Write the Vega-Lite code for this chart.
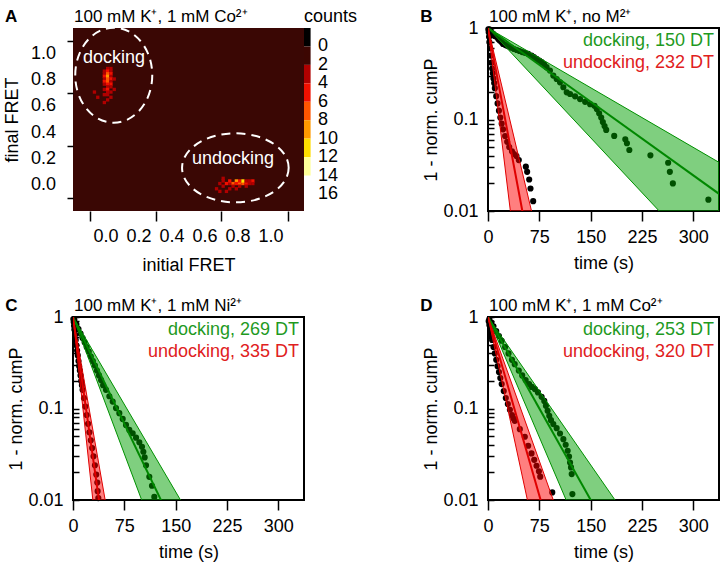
{
"$schema":"https://vega.github.io/schema/vega-lite/v6.json",
"padding":{"left":3,"top":6,"right":0,"bottom":0},
"background":"white",
"config":{"font":"Liberation Sans","view":{"stroke":null},"axis":{"grid":false,"labelFontSize":18,"titleFontSize":18,"titleFontWeight":"normal","labelColor":"black","titleColor":"black","tickColor":"black","tickWidth":1.5,"labelFlush":false,"labelOverlap":false,"labelFont":"Liberation Sans","titleFont":"Liberation Sans"},"text":{"font":"Liberation Sans"}},
"datasets":{
"panels":[{"panel":"A","letter":"A","heading":"100 mM K⁺, 1 mM Co²⁺"},{"panel":"B","letter":"B","heading":"100 mM K⁺, no M²⁺"},{"panel":"C","letter":"C","heading":"100 mM K⁺, 1 mM Ni²⁺"},{"panel":"D","letter":"D","heading":"100 mM K⁺, 1 mM Co²⁺"}],
"tags":[{"panel":"B","kind":"docking","label":"docking, 150 DT"},{"panel":"B","kind":"undocking","label":"undocking, 232 DT"},{"panel":"C","kind":"docking","label":"docking, 269 DT"},{"panel":"C","kind":"undocking","label":"undocking, 335 DT"},{"panel":"D","kind":"docking","label":"docking, 253 DT"},{"panel":"D","kind":"undocking","label":"undocking, 320 DT"}],
"regions":[{"region":"docking","cx":0.047,"cy":0.839,"lx":0.048,"ly":0.97},{"region":"undocking","cx":0.784,"cy":0.13,"lx":0.77,"ly":0.197}],
"colorbar":[{"lo":-2,"hi":0},{"lo":0,"hi":2},{"lo":2,"hi":4},{"lo":4,"hi":6},{"lo":6,"hi":8},{"lo":8,"hi":10},{"lo":10,"hi":12},{"lo":12,"hi":14}],
"cbticks":[{"v":0},{"v":2},{"v":4},{"v":6},{"v":8},{"v":10},{"v":12},{"v":14},{"v":16}],
"fretticks":[{"v":0},{"v":0.2},{"v":0.4},{"v":0.6},{"v":0.8},{"v":1}],
"tdp":[
{"x":0.01,"y":0.89,"count":3},{"x":0.03,"y":0.89,"count":2},{"x":-0.01,"y":0.87,"count":2},{"x":0.01,"y":0.87,"count":4},{"x":0.03,"y":0.87,"count":3},
{"x":0.01,"y":0.85,"count":6},{"x":-0.01,"y":0.85,"count":3},{"x":0.03,"y":0.85,"count":4},
{"x":-0.01,"y":0.83,"count":4},{"x":0.01,"y":0.83,"count":8},{"x":0.03,"y":0.83,"count":3},
{"x":0.01,"y":0.81,"count":6},{"x":-0.01,"y":0.81,"count":2},{"x":0.03,"y":0.81,"count":5},{"x":0.05,"y":0.81,"count":2},
{"x":-0.01,"y":0.79,"count":5},{"x":0.01,"y":0.79,"count":6},{"x":0.03,"y":0.79,"count":3},
{"x":0.01,"y":0.77,"count":4},{"x":-0.01,"y":0.77,"count":2},{"x":0.03,"y":0.77,"count":4},
{"x":0.01,"y":0.75,"count":3},{"x":0.03,"y":0.75,"count":2},{"x":-0.01,"y":0.73,"count":3},{"x":0.01,"y":0.73,"count":4},
{"x":0.01,"y":0.71,"count":2},{"x":0.03,"y":0.71,"count":3},{"x":-0.01,"y":0.69,"count":2},{"x":0.01,"y":0.69,"count":3},{"x":0.03,"y":0.67,"count":2},{"x":0.01,"y":0.65,"count":2},{"x":-0.01,"y":0.63,"count":2},{"x":-0.07,"y":0.71,"count":2},{"x":-0.05,"y":0.67,"count":2},{"x":0.05,"y":0.73,"count":2},
{"x":0.67,"y":-0.03,"count":2},{"x":0.69,"y":0.01,"count":2},{"x":0.71,"y":-0.01,"count":2},{"x":0.71,"y":0.03,"count":3},{"x":0.73,"y":0.01,"count":4},{"x":0.73,"y":-0.05,"count":2},{"x":0.75,"y":0.01,"count":3},{"x":0.75,"y":0.03,"count":4},{"x":0.77,"y":0.01,"count":6},{"x":0.77,"y":-0.01,"count":3},{"x":0.79,"y":0.03,"count":8},{"x":0.79,"y":0.01,"count":5},{"x":0.81,"y":0.01,"count":6},{"x":0.81,"y":0.03,"count":4},{"x":0.81,"y":-0.01,"count":3},{"x":0.83,"y":0.01,"count":6},{"x":0.83,"y":0.03,"count":10},{"x":0.85,"y":0.01,"count":4},{"x":0.85,"y":0.03,"count":3},{"x":0.87,"y":0.01,"count":3},{"x":0.87,"y":0.03,"count":2},{"x":0.89,"y":0.03,"count":5},{"x":0.89,"y":0.01,"count":2},{"x":0.75,"y":-0.03,"count":2},{"x":0.79,"y":-0.03,"count":2},{"x":0.69,"y":-0.05,"count":2},{"x":0.85,"y":-0.01,"count":2},{"x":0.71,"y":0.05,"count":2}
],
"fits":[
{"panel":"B","kind":"docking","t":0,"fit":1,"lo":1,"hi":1},{"panel":"B","kind":"docking","t":337.5,"fit":0.0154,"lo":0.002,"hi":0.034},
{"panel":"B","kind":"undocking","t":0,"fit":1,"lo":1,"hi":1},{"panel":"B","kind":"undocking","t":70,"fit":0.00163,"lo":0.000052,"hi":0.00628},
{"panel":"C","kind":"docking","t":0,"fit":1,"lo":1,"hi":1},{"panel":"C","kind":"docking","t":200,"fit":0.00077,"lo":0.000103,"hi":0.00284},
{"panel":"C","kind":"undocking","t":0,"fit":1,"lo":1,"hi":1},{"panel":"C","kind":"undocking","t":60,"fit":0.00069,"lo":0.000073,"hi":0.00279},
{"panel":"D","kind":"docking","t":0,"fit":1,"lo":1,"hi":1},{"panel":"D","kind":"docking","t":220,"fit":0.00117,"lo":0.00014,"hi":0.00426},
{"panel":"D","kind":"undocking","t":0,"fit":1,"lo":1,"hi":1},{"panel":"D","kind":"undocking","t":120,"fit":0.000757,"lo":0.0000677,"hi":0.00304}
],
"survival":[
{"panel":"B","kind":"docking","t":2,"p":0.97},{"panel":"B","kind":"docking","t":4,"p":0.93},{"panel":"B","kind":"docking","t":7.3,"p":0.87},{"panel":"B","kind":"docking","t":10,"p":0.82},{"panel":"B","kind":"docking","t":12.2,"p":0.8},{"panel":"B","kind":"docking","t":15,"p":0.76},{"panel":"B","kind":"docking","t":17.1,"p":0.73},{"panel":"B","kind":"docking","t":20,"p":0.7},{"panel":"B","kind":"docking","t":22,"p":0.67},{"panel":"B","kind":"docking","t":25,"p":0.655},{"panel":"B","kind":"docking","t":27,"p":0.645},{"panel":"B","kind":"docking","t":30,"p":0.63},{"panel":"B","kind":"docking","t":34,"p":0.61},{"panel":"B","kind":"docking","t":38,"p":0.59},{"panel":"B","kind":"docking","t":42,"p":0.575},{"panel":"B","kind":"docking","t":46,"p":0.56},{"panel":"B","kind":"docking","t":50,"p":0.545},{"panel":"B","kind":"docking","t":54,"p":0.535},{"panel":"B","kind":"docking","t":58.7,"p":0.522},{"panel":"B","kind":"docking","t":63.6,"p":0.501},{"panel":"B","kind":"docking","t":67,"p":0.48},{"panel":"B","kind":"docking","t":70.9,"p":0.46},{"panel":"B","kind":"docking","t":75,"p":0.44},{"panel":"B","kind":"docking","t":78.3,"p":0.423},{"panel":"B","kind":"docking","t":82,"p":0.4},{"panel":"B","kind":"docking","t":85.6,"p":0.373},{"panel":"B","kind":"docking","t":90.5,"p":0.343},{"panel":"B","kind":"docking","t":95.4,"p":0.302},{"panel":"B","kind":"docking","t":100.3,"p":0.277},{"panel":"B","kind":"docking","t":105.2,"p":0.255},{"panel":"B","kind":"docking","t":110.1,"p":0.225},{"panel":"B","kind":"docking","t":115,"p":0.198},{"panel":"B","kind":"docking","t":119.9,"p":0.19},{"panel":"B","kind":"docking","t":127.2,"p":0.179},{"panel":"B","kind":"docking","t":134.5,"p":0.167},{"panel":"B","kind":"docking","t":141.9,"p":0.156},{"panel":"B","kind":"docking","t":149.2,"p":0.147},{"panel":"B","kind":"docking","t":155.6,"p":0.141},{"panel":"B","kind":"docking","t":159,"p":0.13},{"panel":"B","kind":"docking","t":162.4,"p":0.117},{"panel":"B","kind":"docking","t":165.4,"p":0.105},{"panel":"B","kind":"docking","t":167.8,"p":0.094},{"panel":"B","kind":"docking","t":170.3,"p":0.085},{"panel":"B","kind":"docking","t":172.7,"p":0.077},{"panel":"B","kind":"docking","t":184.4,"p":0.0662},{"panel":"B","kind":"docking","t":200.6,"p":0.0608},{"panel":"B","kind":"docking","t":203,"p":0.055},{"panel":"B","kind":"docking","t":206.5,"p":0.0464},{"panel":"B","kind":"docking","t":237.3,"p":0.0406},{"panel":"B","kind":"docking","t":263.2,"p":0.0337},{"panel":"B","kind":"docking","t":265.7,"p":0.0268},{"panel":"B","kind":"docking","t":270.1,"p":0.02},{"panel":"B","kind":"docking","t":322,"p":0.0133},
{"panel":"B","kind":"undocking","t":0.5,"p":0.97},{"panel":"B","kind":"undocking","t":1,"p":0.9},{"panel":"B","kind":"undocking","t":1.5,"p":0.8},{"panel":"B","kind":"undocking","t":2,"p":0.7},{"panel":"B","kind":"undocking","t":3,"p":0.6},{"panel":"B","kind":"undocking","t":4,"p":0.5},{"panel":"B","kind":"undocking","t":5,"p":0.42},{"panel":"B","kind":"undocking","t":6,"p":0.36},{"panel":"B","kind":"undocking","t":7,"p":0.32},{"panel":"B","kind":"undocking","t":8,"p":0.28},{"panel":"B","kind":"undocking","t":9,"p":0.25},{"panel":"B","kind":"undocking","t":10,"p":0.22},{"panel":"B","kind":"undocking","t":12,"p":0.18},{"panel":"B","kind":"undocking","t":14,"p":0.15},{"panel":"B","kind":"undocking","t":16,"p":0.125},{"panel":"B","kind":"undocking","t":18,"p":0.105},{"panel":"B","kind":"undocking","t":20,"p":0.09},{"panel":"B","kind":"undocking","t":22,"p":0.078},{"panel":"B","kind":"undocking","t":25,"p":0.066},{"panel":"B","kind":"undocking","t":28,"p":0.057},{"panel":"B","kind":"undocking","t":31,"p":0.05},{"panel":"B","kind":"undocking","t":35,"p":0.045},{"panel":"B","kind":"undocking","t":38,"p":0.042},{"panel":"B","kind":"undocking","t":41.6,"p":0.0399},{"panel":"B","kind":"undocking","t":45,"p":0.036},{"panel":"B","kind":"undocking","t":55.3,"p":0.0305},{"panel":"B","kind":"undocking","t":57.2,"p":0.0268},{"panel":"B","kind":"undocking","t":60.2,"p":0.0221},{"panel":"B","kind":"undocking","t":62.1,"p":0.0176},{"panel":"B","kind":"undocking","t":66,"p":0.0128},
{"panel":"C","kind":"docking","t":2,"p":0.93},{"panel":"C","kind":"docking","t":5,"p":0.83},{"panel":"C","kind":"docking","t":8,"p":0.74},{"panel":"C","kind":"docking","t":11,"p":0.66},{"panel":"C","kind":"docking","t":14,"p":0.59},{"panel":"C","kind":"docking","t":17,"p":0.53},{"panel":"C","kind":"docking","t":20,"p":0.47},{"panel":"C","kind":"docking","t":23,"p":0.42},{"panel":"C","kind":"docking","t":26,"p":0.37},{"panel":"C","kind":"docking","t":29,"p":0.33},{"panel":"C","kind":"docking","t":32,"p":0.295},{"panel":"C","kind":"docking","t":35,"p":0.26},{"panel":"C","kind":"docking","t":38,"p":0.23},{"panel":"C","kind":"docking","t":41,"p":0.205},{"panel":"C","kind":"docking","t":44,"p":0.18},{"panel":"C","kind":"docking","t":48.2,"p":0.16},{"panel":"C","kind":"docking","t":53.1,"p":0.136},{"panel":"C","kind":"docking","t":58,"p":0.119},{"panel":"C","kind":"docking","t":62.8,"p":0.101},{"panel":"C","kind":"docking","t":67.7,"p":0.0889},{"panel":"C","kind":"docking","t":72.6,"p":0.077},{"panel":"C","kind":"docking","t":77.4,"p":0.0662},{"panel":"C","kind":"docking","t":82.3,"p":0.0583},{"panel":"C","kind":"docking","t":87.2,"p":0.0536},{"panel":"C","kind":"docking","t":92.1,"p":0.048},{"panel":"C","kind":"docking","t":96.9,"p":0.0427},{"panel":"C","kind":"docking","t":100.8,"p":0.0382},{"panel":"C","kind":"docking","t":102.8,"p":0.0337},{"panel":"C","kind":"docking","t":104.7,"p":0.0292},{"panel":"C","kind":"docking","t":106.7,"p":0.024},{"panel":"C","kind":"docking","t":111.5,"p":0.0179},{"panel":"C","kind":"docking","t":115.4,"p":0.0143},{"panel":"C","kind":"docking","t":118.8,"p":0.0108},
{"panel":"C","kind":"undocking","t":0.5,"p":0.95},{"panel":"C","kind":"undocking","t":1,"p":0.88},{"panel":"C","kind":"undocking","t":1.5,"p":0.8},{"panel":"C","kind":"undocking","t":2,"p":0.73},{"panel":"C","kind":"undocking","t":3,"p":0.64},{"panel":"C","kind":"undocking","t":4,"p":0.56},{"panel":"C","kind":"undocking","t":5,"p":0.49},{"panel":"C","kind":"undocking","t":6,"p":0.43},{"panel":"C","kind":"undocking","t":7,"p":0.38},{"panel":"C","kind":"undocking","t":8,"p":0.33},{"panel":"C","kind":"undocking","t":9,"p":0.29},{"panel":"C","kind":"undocking","t":10,"p":0.26},{"panel":"C","kind":"undocking","t":11,"p":0.23},{"panel":"C","kind":"undocking","t":12,"p":0.2},{"panel":"C","kind":"undocking","t":13,"p":0.18},{"panel":"C","kind":"undocking","t":14,"p":0.16},{"panel":"C","kind":"undocking","t":16,"p":0.13},{"panel":"C","kind":"undocking","t":18,"p":0.105},{"panel":"C","kind":"undocking","t":20,"p":0.085},{"panel":"C","kind":"undocking","t":22,"p":0.068},{"panel":"C","kind":"undocking","t":24,"p":0.055},{"panel":"C","kind":"undocking","t":26,"p":0.045},{"panel":"C","kind":"undocking","t":28,"p":0.037},{"panel":"C","kind":"undocking","t":30,"p":0.03},{"panel":"C","kind":"undocking","t":32,"p":0.024},{"panel":"C","kind":"undocking","t":34,"p":0.019},{"panel":"C","kind":"undocking","t":35.5,"p":0.0155},{"panel":"C","kind":"undocking","t":36,"p":0.0125},{"panel":"C","kind":"undocking","t":37,"p":0.0105},
{"panel":"D","kind":"docking","t":2,"p":0.95},{"panel":"D","kind":"docking","t":5,"p":0.87},{"panel":"D","kind":"docking","t":8,"p":0.79},{"panel":"D","kind":"docking","t":12,"p":0.7},{"panel":"D","kind":"docking","t":16,"p":0.62},{"panel":"D","kind":"docking","t":20,"p":0.55},{"panel":"D","kind":"docking","t":25,"p":0.47},{"panel":"D","kind":"docking","t":30,"p":0.4},{"panel":"D","kind":"docking","t":35,"p":0.34},{"panel":"D","kind":"docking","t":39,"p":0.305},{"panel":"D","kind":"docking","t":45,"p":0.26},{"panel":"D","kind":"docking","t":50,"p":0.23},{"panel":"D","kind":"docking","t":55,"p":0.205},{"panel":"D","kind":"docking","t":60,"p":0.185},{"panel":"D","kind":"docking","t":64,"p":0.172},{"panel":"D","kind":"docking","t":68.5,"p":0.163},{"panel":"D","kind":"docking","t":73,"p":0.15},{"panel":"D","kind":"docking","t":78.3,"p":0.134},{"panel":"D","kind":"docking","t":82.2,"p":0.121},{"panel":"D","kind":"docking","t":84.6,"p":0.107},{"panel":"D","kind":"docking","t":87.1,"p":0.0944},{"panel":"D","kind":"docking","t":89.5,"p":0.0832},{"panel":"D","kind":"docking","t":92,"p":0.0746},{"panel":"D","kind":"docking","t":95.4,"p":0.0675},{"panel":"D","kind":"docking","t":100.3,"p":0.061},{"panel":"D","kind":"docking","t":105.2,"p":0.0533},{"panel":"D","kind":"docking","t":110.1,"p":0.0462},{"panel":"D","kind":"docking","t":113.5,"p":0.0402},{"panel":"D","kind":"docking","t":116.4,"p":0.0345},{"panel":"D","kind":"docking","t":118.4,"p":0.0299},{"panel":"D","kind":"docking","t":119.9,"p":0.0257},{"panel":"D","kind":"docking","t":121.3,"p":0.0227},{"panel":"D","kind":"docking","t":122.3,"p":0.0192},{"panel":"D","kind":"docking","t":123.3,"p":0.0116},
{"panel":"D","kind":"undocking","t":1,"p":0.9},{"panel":"D","kind":"undocking","t":2,"p":0.82},{"panel":"D","kind":"undocking","t":3,"p":0.74},{"panel":"D","kind":"undocking","t":4,"p":0.67},{"panel":"D","kind":"undocking","t":5,"p":0.61},{"panel":"D","kind":"undocking","t":6,"p":0.56},{"panel":"D","kind":"undocking","t":8,"p":0.47},{"panel":"D","kind":"undocking","t":10,"p":0.4},{"panel":"D","kind":"undocking","t":12,"p":0.34},{"panel":"D","kind":"undocking","t":14,"p":0.29},{"panel":"D","kind":"undocking","t":16,"p":0.25},{"panel":"D","kind":"undocking","t":18,"p":0.215},{"panel":"D","kind":"undocking","t":20,"p":0.185},{"panel":"D","kind":"undocking","t":23,"p":0.155},{"panel":"D","kind":"undocking","t":26,"p":0.13},{"panel":"D","kind":"undocking","t":29,"p":0.112},{"panel":"D","kind":"undocking","t":32,"p":0.097},{"panel":"D","kind":"undocking","t":35,"p":0.085},{"panel":"D","kind":"undocking","t":37,"p":0.078},{"panel":"D","kind":"undocking","t":39.1,"p":0.0733},{"panel":"D","kind":"undocking","t":46.5,"p":0.0595},{"panel":"D","kind":"undocking","t":53.8,"p":0.0491},{"panel":"D","kind":"undocking","t":58.7,"p":0.0392},{"panel":"D","kind":"undocking","t":63.6,"p":0.0323},{"panel":"D","kind":"undocking","t":67.5,"p":0.0275},{"panel":"D","kind":"undocking","t":70.9,"p":0.0237},{"panel":"D","kind":"undocking","t":74.4,"p":0.0206},{"panel":"D","kind":"undocking","t":76.3,"p":0.018},{"panel":"D","kind":"undocking","t":93.9,"p":0.0121}
]
},
"columns":2,
"spacing":{"row":106,"column":184},
"bounds":"flush",
"concat":[
{
"width":231,"height":183,
"view":{"fill":"#3a0704","stroke":null},
"layer":[
{"layer":[
{"data":{"name":"tdp"},"mark":{"type":"point","shape":"square","filled":true,"size":11,"opacity":1},
"encoding":{
"x":{"field":"x","type":"quantitative","scale":{"domain":[-0.2,1.2],"nice":false,"zero":false},"axis":{"title":"initial FRET","values":[-0.1,0,0.1,0.2,0.3,0.4,0.5,0.6,0.7,0.8,0.9,1,1.1],"labels":false,"tickSize":10,"titlePadding":35,"domain":false}},
"y":{"field":"y","type":"quantitative","scale":{"domain":[-0.2,1.2],"nice":false,"zero":false},"axis":{"title":"final FRET","values":[-0.1,0,0.1,0.2,0.3,0.4,0.5,0.6,0.7,0.8,0.9,1,1.1],"labels":false,"tickSize":6,"titlePadding":45,"domain":false}},
"color":{"field":"count","type":"quantitative","scale":{"type":"threshold","domain":[0,2,4,6,8,10,12],"range":["#000000","#3c0602","#b00000","#f01000","#ff5500","#ff9900","#ffdd00","#ffff99"]},"legend":null}}},
{"data":{"name":"regions"},"mark":{"type":"point","filled":false,"color":"white","strokeWidth":2,"strokeDash":[9,6],"size":4,"opacity":1},
"encoding":{"x":{"field":"cx","type":"quantitative"},"y":{"field":"cy","type":"quantitative"},
"shape":{"field":"region","type":"nominal","scale":{"domain":["docking","undocking"],"range":["M38.5,0 C38.5,26.23 21.26,47.5 0,47.5 C-21.26,47.5 -38.5,26.23 -38.5,0 C-38.5,-26.23 -21.26,-47.5 0,-47.5 C21.26,-47.5 38.5,-26.23 38.5,0 Z","M53.3,0 C53.3,19.05 29.44,34.5 0,34.5 C-29.44,34.5 -53.3,19.05 -53.3,0 C-53.3,-19.05 -29.44,-34.5 0,-34.5 C29.44,-34.5 53.3,-19.05 53.3,0 Z"]},"legend":null}}},
{"data":{"name":"regions"},"mark":{"type":"text","color":"white","fontSize":18,"baseline":"middle","align":"center"},
"encoding":{"x":{"field":"lx","type":"quantitative"},"y":{"field":"ly","type":"quantitative"},"text":{"field":"region"}}},
{"data":{"name":"fretticks"},"mark":{"type":"text","align":"center","baseline":"top","fontSize":18,"dy":17},
"encoding":{"x":{"field":"v","type":"quantitative"},"y":{"datum":-0.2},"text":{"field":"v","type":"quantitative","format":".1f"}}},
{"data":{"name":"fretticks"},"mark":{"type":"text","align":"right","baseline":"middle","fontSize":18,"dx":-17},
"encoding":{"x":{"datum":-0.2},"y":{"field":"v","type":"quantitative"},"text":{"field":"v","type":"quantitative","format":".1f"}}},
{"data":{"name":"panels"},"transform":[{"filter":"datum.panel === 'A'"}],"mark":{"type":"text","align":"left","baseline":"alphabetic","fontSize":17,"fontWeight":"bold"},
"encoding":{"x":{"datum":-0.612},"y":{"datum":1.248},"text":{"field":"letter"}}},
{"data":{"name":"panels"},"transform":[{"filter":"datum.panel === 'A'"}],"mark":{"type":"text","align":"left","baseline":"alphabetic","fontSize":17,"dx":1},
"encoding":{"x":{"datum":-0.2},"y":{"datum":1.248},"text":{"field":"heading"}}}
]},
{"layer":[
{"data":{"name":"colorbar"},"mark":{"type":"rect"},
"encoding":{"x":{"datum":1.2},"x2":{"datum":1.24},
"y":{"field":"lo","type":"quantitative","scale":{"domain":[-2,17.85],"reverse":true,"nice":false,"zero":false},"axis":null},
"y2":{"field":"hi"},
"color":{"field":"lo","type":"quantitative","scale":{"type":"threshold","domain":[0,2,4,6,8,10,12],"range":["#000000","#3c0602","#b00000","#f01000","#ff5500","#ff9900","#ffdd00","#ffff99"]},"legend":null}}},
{"data":{"name":"cbticks"},"mark":{"type":"text","align":"left","baseline":"middle","fontSize":18,"dx":14},
"encoding":{"x":{"datum":1.2},"y":{"field":"v","type":"quantitative"},"text":{"field":"v","type":"quantitative"}}},
{"data":{"values":[{"label":"counts"}]},"mark":{"type":"text","align":"left","baseline":"alphabetic","fontSize":18},
"encoding":{"x":{"datum":1.2},"y":{"datum":-2.6},"text":{"field":"label"}}}
]}
],
"resolve":{"scale":{"y":"independent"}}
},
{
"width":231,"height":183,
"view":{"stroke":"black","strokeWidth":2},
"layer":[
{"data":{"name":"survival"},"transform":[{"filter":"datum.panel === 'B'"}],"mark":{"type":"circle","size":38,"color":"black","opacity":1},
"encoding":{
"x":{"field":"t","type":"quantitative","scale":{"domain":[0,337.5],"nice":false,"zero":false},"axis":{"title":"time (s)","values":[0,37.5,75,112.5,150,187.5,225,262.5,300,337.5],"labelExpr":"datum.value % 75 === 0 ? datum.label : ''","labelOverlap":false,"tickSize":10,"labelPadding":7,"titlePadding":8,"domain":false}},
"y":{"field":"p","type":"quantitative","scale":{"type":"log","domain":[0.01,1],"nice":false},"axis":{"title":"1 - norm. cumP","values":[1,0.9,0.8,0.7,0.6,0.5,0.4,0.3,0.2,0.1,0.09,0.08,0.07,0.06,0.05,0.04,0.03,0.02,0.01],"labelExpr":"datum.value === 1 ? '1' : datum.value === 0.1 ? '0.1' : datum.value === 0.01 ? '0.01' : ''","labelOverlap":false,"tickSize":-6,"labelPadding":16,"titlePadding":2,"domain":false}}}},
{"data":{"name":"fits"},"transform":[{"filter":"datum.panel === 'B'"}],"mark":{"type":"area","clip":true,"fillOpacity":0.5,"strokeWidth":1},
"encoding":{"x":{"field":"t","type":"quantitative"},"y":{"field":"lo","type":"quantitative"},"y2":{"field":"hi"},
"fill":{"field":"kind","type":"nominal","scale":{"domain":["docking","undocking"],"range":["#00a000","#ff0000"]},"legend":null},
"stroke":{"field":"kind","type":"nominal","scale":{"domain":["docking","undocking"],"range":["#009000","#e00000"]},"legend":null}}},
{"data":{"name":"fits"},"transform":[{"filter":"datum.panel === 'B'"}],"mark":{"type":"line","clip":true,"strokeWidth":2},
"encoding":{"x":{"field":"t","type":"quantitative"},"y":{"field":"fit","type":"quantitative"},
"color":{"field":"kind","type":"nominal","scale":{"domain":["docking","undocking"],"range":["#008800","#e00000"]},"legend":null}}},
{"data":{"name":"tags"},"transform":[{"filter":"datum.panel === 'B' && datum.kind === 'docking'"}],"mark":{"type":"text","align":"right","baseline":"middle","fontSize":18,"dx":-5,"color":"#1f9a1f"},
"encoding":{"x":{"datum":337.5},"y":{"datum":0.72},"text":{"field":"label"}}},
{"data":{"name":"tags"},"transform":[{"filter":"datum.panel === 'B' && datum.kind === 'undocking'"}],"mark":{"type":"text","align":"right","baseline":"middle","fontSize":18,"dx":-5,"color":"#e02020"},
"encoding":{"x":{"datum":337.5},"y":{"datum":0.413},"text":{"field":"label"}}},
{"data":{"name":"panels"},"transform":[{"filter":"datum.panel === 'B'"}],"mark":{"type":"text","align":"left","baseline":"alphabetic","fontSize":17,"fontWeight":"bold"},
"encoding":{"x":{"datum":-99},"y":{"datum":1.17},"text":{"field":"letter"}}},
{"data":{"name":"panels"},"transform":[{"filter":"datum.panel === 'B'"}],"mark":{"type":"text","align":"left","baseline":"alphabetic","fontSize":17,"dx":1},
"encoding":{"x":{"datum":0},"y":{"datum":1.17},"text":{"field":"heading"}}}
]
},
{
"width":231,"height":183,
"view":{"stroke":"black","strokeWidth":2},
"layer":[
{"data":{"name":"survival"},"transform":[{"filter":"datum.panel === 'C'"}],"mark":{"type":"circle","size":38,"color":"black","opacity":1},
"encoding":{
"x":{"field":"t","type":"quantitative","scale":{"domain":[0,337.5],"nice":false,"zero":false},"axis":{"title":"time (s)","values":[0,37.5,75,112.5,150,187.5,225,262.5,300,337.5],"labelExpr":"datum.value % 75 === 0 ? datum.label : ''","labelOverlap":false,"tickSize":10,"labelPadding":7,"titlePadding":8,"domain":false}},
"y":{"field":"p","type":"quantitative","scale":{"type":"log","domain":[0.01,1],"nice":false},"axis":{"title":"1 - norm. cumP","values":[1,0.9,0.8,0.7,0.6,0.5,0.4,0.3,0.2,0.1,0.09,0.08,0.07,0.06,0.05,0.04,0.03,0.02,0.01],"labelExpr":"datum.value === 1 ? '1' : datum.value === 0.1 ? '0.1' : datum.value === 0.01 ? '0.01' : ''","labelOverlap":false,"tickSize":-6,"labelPadding":16,"titlePadding":2,"domain":false}}}},
{"data":{"name":"fits"},"transform":[{"filter":"datum.panel === 'C'"}],"mark":{"type":"area","clip":true,"fillOpacity":0.5,"strokeWidth":1},
"encoding":{"x":{"field":"t","type":"quantitative"},"y":{"field":"lo","type":"quantitative"},"y2":{"field":"hi"},
"fill":{"field":"kind","type":"nominal","scale":{"domain":["docking","undocking"],"range":["#00a000","#ff0000"]},"legend":null},
"stroke":{"field":"kind","type":"nominal","scale":{"domain":["docking","undocking"],"range":["#009000","#e00000"]},"legend":null}}},
{"data":{"name":"fits"},"transform":[{"filter":"datum.panel === 'C'"}],"mark":{"type":"line","clip":true,"strokeWidth":2},
"encoding":{"x":{"field":"t","type":"quantitative"},"y":{"field":"fit","type":"quantitative"},
"color":{"field":"kind","type":"nominal","scale":{"domain":["docking","undocking"],"range":["#008800","#e00000"]},"legend":null}}},
{"data":{"name":"tags"},"transform":[{"filter":"datum.panel === 'C' && datum.kind === 'docking'"}],"mark":{"type":"text","align":"right","baseline":"middle","fontSize":18,"dx":-5,"color":"#1f9a1f"},
"encoding":{"x":{"datum":337.5},"y":{"datum":0.72},"text":{"field":"label"}}},
{"data":{"name":"tags"},"transform":[{"filter":"datum.panel === 'C' && datum.kind === 'undocking'"}],"mark":{"type":"text","align":"right","baseline":"middle","fontSize":18,"dx":-5,"color":"#e02020"},
"encoding":{"x":{"datum":337.5},"y":{"datum":0.413},"text":{"field":"label"}}},
{"data":{"name":"panels"},"transform":[{"filter":"datum.panel === 'C'"}],"mark":{"type":"text","align":"left","baseline":"alphabetic","fontSize":17,"fontWeight":"bold"},
"encoding":{"x":{"datum":-99},"y":{"datum":1.17},"text":{"field":"letter"}}},
{"data":{"name":"panels"},"transform":[{"filter":"datum.panel === 'C'"}],"mark":{"type":"text","align":"left","baseline":"alphabetic","fontSize":17,"dx":1},
"encoding":{"x":{"datum":0},"y":{"datum":1.17},"text":{"field":"heading"}}}
]
},
{
"width":231,"height":183,
"view":{"stroke":"black","strokeWidth":2},
"layer":[
{"data":{"name":"survival"},"transform":[{"filter":"datum.panel === 'D'"}],"mark":{"type":"circle","size":38,"color":"black","opacity":1},
"encoding":{
"x":{"field":"t","type":"quantitative","scale":{"domain":[0,337.5],"nice":false,"zero":false},"axis":{"title":"time (s)","values":[0,37.5,75,112.5,150,187.5,225,262.5,300,337.5],"labelExpr":"datum.value % 75 === 0 ? datum.label : ''","labelOverlap":false,"tickSize":10,"labelPadding":7,"titlePadding":8,"domain":false}},
"y":{"field":"p","type":"quantitative","scale":{"type":"log","domain":[0.01,1],"nice":false},"axis":{"title":"1 - norm. cumP","values":[1,0.9,0.8,0.7,0.6,0.5,0.4,0.3,0.2,0.1,0.09,0.08,0.07,0.06,0.05,0.04,0.03,0.02,0.01],"labelExpr":"datum.value === 1 ? '1' : datum.value === 0.1 ? '0.1' : datum.value === 0.01 ? '0.01' : ''","labelOverlap":false,"tickSize":-6,"labelPadding":16,"titlePadding":2,"domain":false}}}},
{"data":{"name":"fits"},"transform":[{"filter":"datum.panel === 'D'"}],"mark":{"type":"area","clip":true,"fillOpacity":0.5,"strokeWidth":1},
"encoding":{"x":{"field":"t","type":"quantitative"},"y":{"field":"lo","type":"quantitative"},"y2":{"field":"hi"},
"fill":{"field":"kind","type":"nominal","scale":{"domain":["docking","undocking"],"range":["#00a000","#ff0000"]},"legend":null},
"stroke":{"field":"kind","type":"nominal","scale":{"domain":["docking","undocking"],"range":["#009000","#e00000"]},"legend":null}}},
{"data":{"name":"fits"},"transform":[{"filter":"datum.panel === 'D'"}],"mark":{"type":"line","clip":true,"strokeWidth":2},
"encoding":{"x":{"field":"t","type":"quantitative"},"y":{"field":"fit","type":"quantitative"},
"color":{"field":"kind","type":"nominal","scale":{"domain":["docking","undocking"],"range":["#008800","#e00000"]},"legend":null}}},
{"data":{"name":"tags"},"transform":[{"filter":"datum.panel === 'D' && datum.kind === 'docking'"}],"mark":{"type":"text","align":"right","baseline":"middle","fontSize":18,"dx":-5,"color":"#1f9a1f"},
"encoding":{"x":{"datum":337.5},"y":{"datum":0.72},"text":{"field":"label"}}},
{"data":{"name":"tags"},"transform":[{"filter":"datum.panel === 'D' && datum.kind === 'undocking'"}],"mark":{"type":"text","align":"right","baseline":"middle","fontSize":18,"dx":-5,"color":"#e02020"},
"encoding":{"x":{"datum":337.5},"y":{"datum":0.413},"text":{"field":"label"}}},
{"data":{"name":"panels"},"transform":[{"filter":"datum.panel === 'D'"}],"mark":{"type":"text","align":"left","baseline":"alphabetic","fontSize":17,"fontWeight":"bold"},
"encoding":{"x":{"datum":-99},"y":{"datum":1.17},"text":{"field":"letter"}}},
{"data":{"name":"panels"},"transform":[{"filter":"datum.panel === 'D'"}],"mark":{"type":"text","align":"left","baseline":"alphabetic","fontSize":17,"dx":1},
"encoding":{"x":{"datum":0},"y":{"datum":1.17},"text":{"field":"heading"}}}
]
}
]
}
